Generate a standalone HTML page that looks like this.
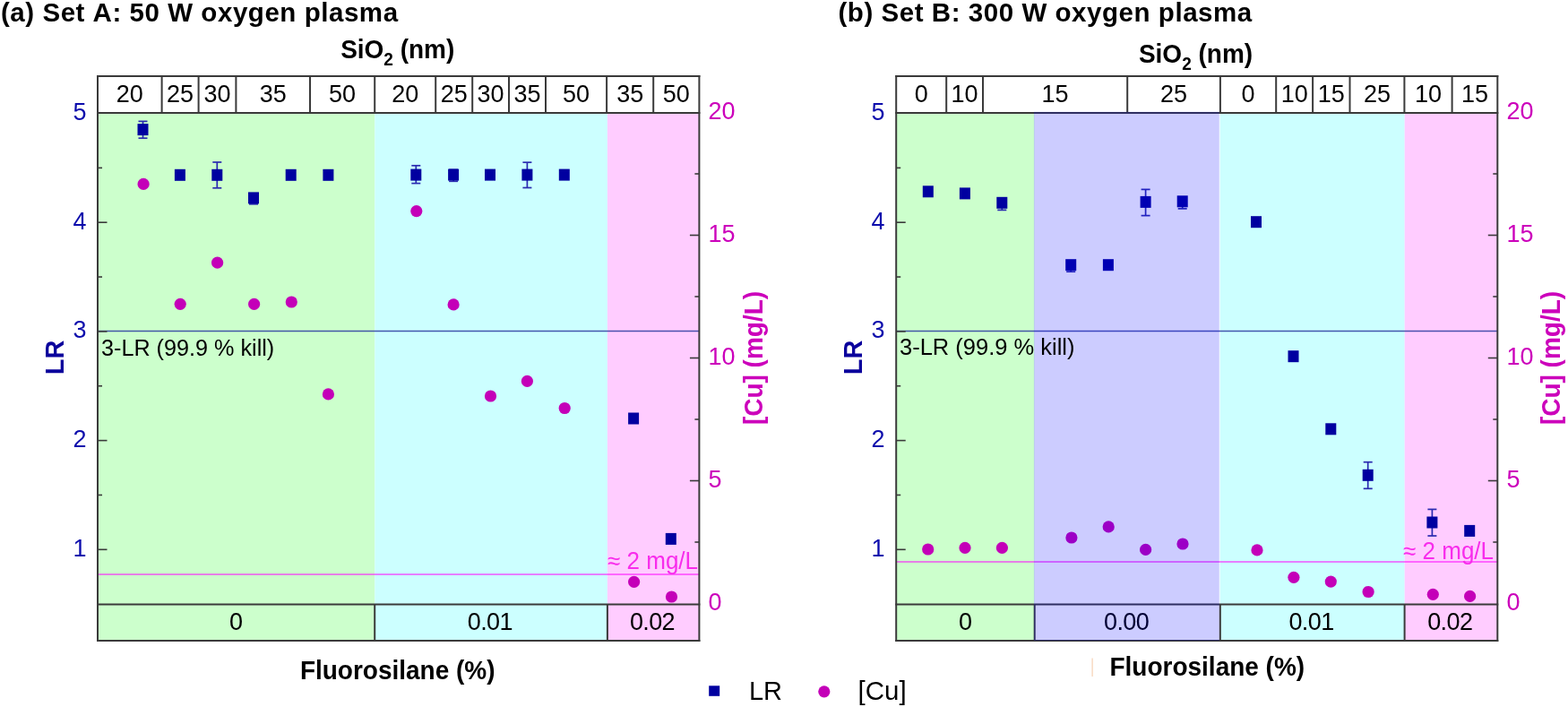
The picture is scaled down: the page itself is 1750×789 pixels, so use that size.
<!DOCTYPE html>
<html><head><meta charset="utf-8"><title>LR and Cu vs SiO2 and fluorosilane</title>
<style>
html,body{margin:0;padding:0;background:#fff;width:1750px;height:789px;overflow:hidden;}
svg{display:block;}
text{font-family:'Liberation Sans', Arial, sans-serif;}
</style></head>
<body>
<svg width="1750" height="789" viewBox="0 0 1750 789">
<rect width="1750" height="789" fill="#fff"/>
<rect x="109" y="126" width="309.3" height="589" fill="#ccffcc"/>
<rect x="418.3" y="126" width="259.59" height="589" fill="#ccffff"/>
<rect x="677.9" y="126" width="102.5" height="589" fill="#ffccff"/>
<line x1="109" x2="780.4" y1="369.5" y2="369.5" stroke="#2a3aa0" stroke-opacity="0.85" stroke-width="1.5"/>
<line x1="109" x2="780.4" y1="641" y2="641" stroke="#ff00ff" stroke-opacity="0.5" stroke-width="2"/>
<line x1="159.5" x2="159.5" y1="135.4" y2="154.2" stroke="#2a2ab0" stroke-width="1.7"/>
<line x1="154.5" x2="164.5" y1="135.4" y2="135.4" stroke="#2a2ab0" stroke-width="1.7"/>
<line x1="154.5" x2="164.5" y1="154.2" y2="154.2" stroke="#2a2ab0" stroke-width="1.7"/>
<rect x="153.5" y="138.1" width="12" height="13" fill="#0000a0"/>
<rect x="194.9" y="188.8" width="12" height="13" fill="#0000a0"/>
<line x1="242.3" x2="242.3" y1="181" y2="209.8" stroke="#2a2ab0" stroke-width="1.7"/>
<line x1="237.3" x2="247.3" y1="181" y2="181" stroke="#2a2ab0" stroke-width="1.7"/>
<line x1="237.3" x2="247.3" y1="209.8" y2="209.8" stroke="#2a2ab0" stroke-width="1.7"/>
<rect x="236.3" y="188.8" width="12" height="13" fill="#0000a0"/>
<line x1="283" x2="283" y1="220.9" y2="227.8" stroke="#2a2ab0" stroke-width="1.7"/>
<line x1="278" x2="288" y1="227.8" y2="227.8" stroke="#2a2ab0" stroke-width="1.7"/>
<rect x="277" y="214.4" width="12" height="13" fill="#0000a0"/>
<rect x="318.7" y="188.8" width="12" height="13" fill="#0000a0"/>
<rect x="360.4" y="188.8" width="12" height="13" fill="#0000a0"/>
<line x1="464.3" x2="464.3" y1="184.8" y2="204.6" stroke="#2a2ab0" stroke-width="1.7"/>
<line x1="459.3" x2="469.3" y1="184.8" y2="184.8" stroke="#2a2ab0" stroke-width="1.7"/>
<line x1="459.3" x2="469.3" y1="204.6" y2="204.6" stroke="#2a2ab0" stroke-width="1.7"/>
<rect x="458.3" y="188.6" width="12" height="13" fill="#0000a0"/>
<line x1="506.1" x2="506.1" y1="189.3" y2="202.3" stroke="#2a2ab0" stroke-width="1.7"/>
<line x1="501.1" x2="511.1" y1="189.3" y2="189.3" stroke="#2a2ab0" stroke-width="1.7"/>
<line x1="501.1" x2="511.1" y1="202.3" y2="202.3" stroke="#2a2ab0" stroke-width="1.7"/>
<rect x="500.1" y="188.6" width="12" height="13" fill="#0000a0"/>
<rect x="541" y="188.6" width="12" height="13" fill="#0000a0"/>
<line x1="588.4" x2="588.4" y1="181.2" y2="209.5" stroke="#2a2ab0" stroke-width="1.7"/>
<line x1="583.4" x2="593.4" y1="181.2" y2="181.2" stroke="#2a2ab0" stroke-width="1.7"/>
<line x1="583.4" x2="593.4" y1="209.5" y2="209.5" stroke="#2a2ab0" stroke-width="1.7"/>
<rect x="582.4" y="188.6" width="12" height="13" fill="#0000a0"/>
<rect x="623.8" y="188.6" width="12" height="13" fill="#0000a0"/>
<rect x="701.1" y="460.5" width="12" height="13" fill="#0000a0"/>
<rect x="742.8" y="594.9" width="12" height="13" fill="#0000a0"/>
<circle cx="160.1" cy="205.4" r="6.6" fill="#c400b8"/>
<circle cx="201.2" cy="339.3" r="6.6" fill="#c400b8"/>
<circle cx="242.6" cy="293.2" r="6.6" fill="#c400b8"/>
<circle cx="283.6" cy="339.3" r="6.6" fill="#c400b8"/>
<circle cx="325.3" cy="337.0" r="6.6" fill="#c400b8"/>
<circle cx="366.4" cy="439.9" r="6.6" fill="#c400b8"/>
<circle cx="464.8" cy="235.6" r="6.6" fill="#c400b8"/>
<circle cx="506.1" cy="339.9" r="6.6" fill="#c400b8"/>
<circle cx="547.5" cy="442" r="6.6" fill="#c400b8"/>
<circle cx="588.4" cy="425.4" r="6.6" fill="#c400b8"/>
<circle cx="630.2" cy="455.5" r="6.6" fill="#c400b8"/>
<circle cx="707.6" cy="649.3" r="6.6" fill="#c400b8"/>
<circle cx="749.5" cy="666" r="6.6" fill="#c400b8"/>
<line x1="109" x2="119.5" y1="613.3" y2="613.3" stroke="#3a3a3a" stroke-width="1.6"/>
<line x1="109" x2="119.5" y1="491.6" y2="491.6" stroke="#3a3a3a" stroke-width="1.6"/>
<line x1="109" x2="119.5" y1="369.9" y2="369.9" stroke="#3a3a3a" stroke-width="1.6"/>
<line x1="109" x2="119.5" y1="248.2" y2="248.2" stroke="#3a3a3a" stroke-width="1.6"/>
<line x1="109" x2="114" y1="552.45" y2="552.45" stroke="#3a3a3a" stroke-width="1.6"/>
<line x1="109" x2="114" y1="430.75" y2="430.75" stroke="#3a3a3a" stroke-width="1.6"/>
<line x1="109" x2="114" y1="309.05" y2="309.05" stroke="#3a3a3a" stroke-width="1.6"/>
<line x1="109" x2="114" y1="187.35" y2="187.35" stroke="#3a3a3a" stroke-width="1.6"/>
<line x1="769.9" x2="780.4" y1="536.5" y2="536.5" stroke="#3a3a3a" stroke-width="1.6"/>
<line x1="769.9" x2="780.4" y1="399.5" y2="399.5" stroke="#3a3a3a" stroke-width="1.6"/>
<line x1="769.9" x2="780.4" y1="262.5" y2="262.5" stroke="#3a3a3a" stroke-width="1.6"/>
<line x1="775.4" x2="780.4" y1="605.0" y2="605.0" stroke="#3a3a3a" stroke-width="1.6"/>
<line x1="775.4" x2="780.4" y1="468.0" y2="468.0" stroke="#3a3a3a" stroke-width="1.6"/>
<line x1="775.4" x2="780.4" y1="331.0" y2="331.0" stroke="#3a3a3a" stroke-width="1.6"/>
<line x1="775.4" x2="780.4" y1="194.0" y2="194.0" stroke="#3a3a3a" stroke-width="1.6"/>
<rect x="109" y="85" width="671.4" height="41" fill="#fff"/>
<text x="0" y="0" transform="translate(144.80,114.20) scale(1,1.03)" font-size="27" font-weight="normal" text-anchor="middle" fill="#000" >20</text>
<text x="0" y="0" transform="translate(201.10,114.20) scale(1,1.03)" font-size="27" font-weight="normal" text-anchor="middle" fill="#000" >25</text>
<text x="0" y="0" transform="translate(242.50,114.20) scale(1,1.03)" font-size="27" font-weight="normal" text-anchor="middle" fill="#000" >30</text>
<text x="0" y="0" transform="translate(304.70,114.20) scale(1,1.03)" font-size="27" font-weight="normal" text-anchor="middle" fill="#000" >35</text>
<text x="0" y="0" transform="translate(382.10,114.20) scale(1,1.03)" font-size="27" font-weight="normal" text-anchor="middle" fill="#000" >50</text>
<text x="0" y="0" transform="translate(452.20,114.20) scale(1,1.03)" font-size="27" font-weight="normal" text-anchor="middle" fill="#000" >20</text>
<text x="0" y="0" transform="translate(506.70,114.20) scale(1,1.03)" font-size="27" font-weight="normal" text-anchor="middle" fill="#000" >25</text>
<text x="0" y="0" transform="translate(547.60,114.20) scale(1,1.03)" font-size="27" font-weight="normal" text-anchor="middle" fill="#000" >30</text>
<text x="0" y="0" transform="translate(588.50,114.20) scale(1,1.03)" font-size="27" font-weight="normal" text-anchor="middle" fill="#000" >35</text>
<text x="0" y="0" transform="translate(643.05,114.20) scale(1,1.03)" font-size="27" font-weight="normal" text-anchor="middle" fill="#000" >50</text>
<text x="0" y="0" transform="translate(703.15,114.20) scale(1,1.03)" font-size="27" font-weight="normal" text-anchor="middle" fill="#000" >35</text>
<text x="0" y="0" transform="translate(754.80,114.20) scale(1,1.03)" font-size="27" font-weight="normal" text-anchor="middle" fill="#000" >50</text>
<text x="0" y="0" transform="translate(263.60,703.00) scale(1,1.03)" font-size="27" font-weight="normal" text-anchor="middle" fill="#000" >0</text>
<text x="0" y="0" transform="translate(546.85,703.00) scale(1,1.03)" font-size="27" font-weight="normal" text-anchor="middle" fill="#000" letter-spacing="-0.6">0.01</text>
<text x="0" y="0" transform="translate(727.95,703.00) scale(1,1.03)" font-size="27" font-weight="normal" text-anchor="middle" fill="#000" letter-spacing="-0.6">0.02</text>
<line x1="108" x2="781.4" y1="85" y2="85" stroke="#3a3a3a" stroke-width="2"/>
<line x1="108" x2="781.4" y1="126" y2="126" stroke="#3a3a3a" stroke-width="2"/>
<line x1="108" x2="781.4" y1="674.5" y2="674.5" stroke="#3a3a3a" stroke-width="2"/>
<line x1="108" x2="781.4" y1="715" y2="715" stroke="#3a3a3a" stroke-width="2"/>
<line x1="109" x2="109" y1="84" y2="716" stroke="#3a3a3a" stroke-width="2"/>
<line x1="780.4" x2="780.4" y1="84" y2="716" stroke="#3a3a3a" stroke-width="2"/>
<line x1="180.6" x2="180.6" y1="85" y2="126" stroke="#3a3a3a" stroke-width="2"/>
<line x1="221.6" x2="221.6" y1="85" y2="126" stroke="#3a3a3a" stroke-width="2"/>
<line x1="263.4" x2="263.4" y1="85" y2="126" stroke="#3a3a3a" stroke-width="2"/>
<line x1="346" x2="346" y1="85" y2="126" stroke="#3a3a3a" stroke-width="2"/>
<line x1="418.2" x2="418.2" y1="85" y2="126" stroke="#3a3a3a" stroke-width="2"/>
<line x1="486.2" x2="486.2" y1="85" y2="126" stroke="#3a3a3a" stroke-width="2"/>
<line x1="527.2" x2="527.2" y1="85" y2="126" stroke="#3a3a3a" stroke-width="2"/>
<line x1="568" x2="568" y1="85" y2="126" stroke="#3a3a3a" stroke-width="2"/>
<line x1="609" x2="609" y1="85" y2="126" stroke="#3a3a3a" stroke-width="2"/>
<line x1="677.1" x2="677.1" y1="85" y2="126" stroke="#3a3a3a" stroke-width="2"/>
<line x1="729.2" x2="729.2" y1="85" y2="126" stroke="#3a3a3a" stroke-width="2"/>
<line x1="418.2" x2="418.2" y1="674.5" y2="715" stroke="#3a3a3a" stroke-width="2"/>
<line x1="677.9" x2="677.9" y1="674.5" y2="715" stroke="#3a3a3a" stroke-width="2"/>
<text x="0" y="0" transform="translate(113.00,397.00) scale(1,1.03)" font-size="25.2" font-weight="normal" text-anchor="start" fill="#000" >3-LR (99.9 % kill)</text>
<text x="0" y="0" transform="translate(779.00,635.00) scale(1,1.03)" font-size="26" font-weight="normal" text-anchor="end" fill="#f82cec" >&#8776; 2 mg/L</text>
<text x="0" y="0" transform="translate(96.50,620.80) scale(1,1.03)" font-size="27" font-weight="normal" text-anchor="end" fill="#0c0cac" >1</text>
<text x="0" y="0" transform="translate(96.50,499.10) scale(1,1.03)" font-size="27" font-weight="normal" text-anchor="end" fill="#0c0cac" >2</text>
<text x="0" y="0" transform="translate(96.50,377.40) scale(1,1.03)" font-size="27" font-weight="normal" text-anchor="end" fill="#0c0cac" >3</text>
<text x="0" y="0" transform="translate(96.50,255.70) scale(1,1.03)" font-size="27" font-weight="normal" text-anchor="end" fill="#0c0cac" >4</text>
<text x="0" y="0" transform="translate(96.50,134.00) scale(1,1.03)" font-size="27" font-weight="normal" text-anchor="end" fill="#0c0cac" >5</text>
<text x="0" y="0" transform="translate(790.50,681.00) scale(1,1.03)" font-size="27" font-weight="normal" text-anchor="start" fill="#cc00bb" >0</text>
<text x="0" y="0" transform="translate(790.50,544.00) scale(1,1.03)" font-size="27" font-weight="normal" text-anchor="start" fill="#cc00bb" >5</text>
<text x="0" y="0" transform="translate(790.50,407.00) scale(1,1.03)" font-size="27" font-weight="normal" text-anchor="start" fill="#cc00bb" >10</text>
<text x="0" y="0" transform="translate(790.50,270.00) scale(1,1.03)" font-size="27" font-weight="normal" text-anchor="start" fill="#cc00bb" >15</text>
<text x="0" y="0" transform="translate(790.50,133.00) scale(1,1.03)" font-size="27" font-weight="normal" text-anchor="start" fill="#cc00bb" >20</text>
<text x="0" y="0" transform="translate(70.5,399) rotate(-90) scale(1,1.03)" font-size="29" font-weight="bold" text-anchor="middle" fill="#0a009c">LR</text>
<text x="0" y="0" transform="translate(850.5,399.5) rotate(-90) scale(1,1.03)" font-size="28" font-weight="bold" text-anchor="middle" fill="#cc00bb">[Cu] (mg/L)</text>
<text x="0" y="0" transform="translate(443.7,65) scale(1,1.03)" font-size="28" font-weight="bold" text-anchor="middle">SiO<tspan font-size="19" dy="7.5">2</tspan><tspan dy="-7.5"> (nm)</tspan></text>
<text x="0" y="0" transform="translate(443.70,757.90) scale(1,1.03)" font-size="28" font-weight="bold" text-anchor="middle" fill="#000" >Fluorosilane (%)</text>
<text x="0" y="0" transform="translate(1.00,24.00) scale(1,1.03)" font-size="29.5" font-weight="bold" text-anchor="start" fill="#000" letter-spacing="0.55">(a) Set<tspan dx="1"> A: 50 W oxygen plasma</tspan></text>
<rect x="1000.2" y="126" width="154.20" height="589" fill="#ccffcc"/>
<rect x="1361.6" y="126" width="206.10" height="589" fill="#ccffff"/>
<rect x="1567.7" y="126" width="103.59" height="589" fill="#ffccff"/>
<line x1="1000.2" x2="1671.3" y1="369.5" y2="369.5" stroke="#2a3aa0" stroke-opacity="0.85" stroke-width="1.5"/>
<line x1="1000.2" x2="1671.3" y1="627" y2="627" stroke="#ff00ff" stroke-opacity="0.5" stroke-width="2"/>
<rect x="1029.8" y="207.3" width="12" height="13" fill="#0000a0"/>
<rect x="1070.9" y="209.4" width="12" height="13" fill="#0000a0"/>
<line x1="1118.3" x2="1118.3" y1="226.3" y2="234.4" stroke="#2a2ab0" stroke-width="1.7"/>
<line x1="1113.3" x2="1123.3" y1="234.4" y2="234.4" stroke="#2a2ab0" stroke-width="1.7"/>
<rect x="1112.3" y="219.8" width="12" height="13" fill="#0000a0"/>
<line x1="1195.2" x2="1195.2" y1="295.7" y2="303.2" stroke="#2a2ab0" stroke-width="1.7"/>
<line x1="1190.2" x2="1200.2" y1="303.2" y2="303.2" stroke="#2a2ab0" stroke-width="1.7"/>
<rect x="1189.2" y="289.2" width="12" height="13" fill="#0000a0"/>
<rect x="1230.9" y="289.2" width="12" height="13" fill="#0000a0"/>
<line x1="1278.6" x2="1278.6" y1="211.4" y2="240.6" stroke="#2a2ab0" stroke-width="1.7"/>
<line x1="1273.6" x2="1283.6" y1="211.4" y2="211.4" stroke="#2a2ab0" stroke-width="1.7"/>
<line x1="1273.6" x2="1283.6" y1="240.6" y2="240.6" stroke="#2a2ab0" stroke-width="1.7"/>
<rect x="1272.6" y="218.9" width="12" height="13" fill="#0000a0"/>
<line x1="1319.7" x2="1319.7" y1="224.8" y2="232.9" stroke="#2a2ab0" stroke-width="1.7"/>
<line x1="1314.7" x2="1324.7" y1="232.9" y2="232.9" stroke="#2a2ab0" stroke-width="1.7"/>
<rect x="1313.7" y="218.3" width="12" height="13" fill="#0000a0"/>
<rect x="1396" y="241.2" width="12" height="13" fill="#0000a0"/>
<rect x="1437.5" y="391.2" width="12" height="13" fill="#0000a0"/>
<rect x="1479.3" y="472.3" width="12" height="13" fill="#0000a0"/>
<line x1="1526.7" x2="1526.7" y1="515.7" y2="545.3" stroke="#2a2ab0" stroke-width="1.7"/>
<line x1="1521.7" x2="1531.7" y1="515.7" y2="515.7" stroke="#2a2ab0" stroke-width="1.7"/>
<line x1="1521.7" x2="1531.7" y1="545.3" y2="545.3" stroke="#2a2ab0" stroke-width="1.7"/>
<rect x="1520.7" y="523.8" width="12" height="13" fill="#0000a0"/>
<line x1="1598.4" x2="1598.4" y1="568.4" y2="598" stroke="#2a2ab0" stroke-width="1.7"/>
<line x1="1593.4" x2="1603.4" y1="568.4" y2="568.4" stroke="#2a2ab0" stroke-width="1.7"/>
<line x1="1593.4" x2="1603.4" y1="598" y2="598" stroke="#2a2ab0" stroke-width="1.7"/>
<rect x="1592.4" y="576.5" width="12" height="13" fill="#0000a0"/>
<rect x="1634.2" y="585.9" width="12" height="13" fill="#0000a0"/>
<circle cx="1035.7" cy="613" r="6.6" fill="#c400b8"/>
<circle cx="1077" cy="611.4" r="6.6" fill="#c400b8"/>
<circle cx="1118.4" cy="611.4" r="6.6" fill="#c400b8"/>
<circle cx="1195.9" cy="600" r="6.6" fill="#c400b8"/>
<circle cx="1237.2" cy="587.9" r="6.6" fill="#c400b8"/>
<circle cx="1278.6" cy="613.4" r="6.6" fill="#c400b8"/>
<circle cx="1320" cy="607" r="6.6" fill="#c400b8"/>
<circle cx="1403" cy="613.9" r="6.6" fill="#c400b8"/>
<circle cx="1443.9" cy="644.3" r="6.6" fill="#c400b8"/>
<circle cx="1485.3" cy="649.1" r="6.6" fill="#c400b8"/>
<circle cx="1527.1" cy="660.5" r="6.6" fill="#c400b8"/>
<circle cx="1599.3" cy="663.3" r="6.6" fill="#c400b8"/>
<circle cx="1640.6" cy="665.4" r="6.6" fill="#c400b8"/>
<line x1="1000.2" x2="1010.7" y1="613.3" y2="613.3" stroke="#3a3a3a" stroke-width="1.6"/>
<line x1="1000.2" x2="1010.7" y1="491.6" y2="491.6" stroke="#3a3a3a" stroke-width="1.6"/>
<line x1="1000.2" x2="1010.7" y1="369.9" y2="369.9" stroke="#3a3a3a" stroke-width="1.6"/>
<line x1="1000.2" x2="1010.7" y1="248.2" y2="248.2" stroke="#3a3a3a" stroke-width="1.6"/>
<line x1="1000.2" x2="1005.2" y1="552.45" y2="552.45" stroke="#3a3a3a" stroke-width="1.6"/>
<line x1="1000.2" x2="1005.2" y1="430.75" y2="430.75" stroke="#3a3a3a" stroke-width="1.6"/>
<line x1="1000.2" x2="1005.2" y1="309.05" y2="309.05" stroke="#3a3a3a" stroke-width="1.6"/>
<line x1="1000.2" x2="1005.2" y1="187.35" y2="187.35" stroke="#3a3a3a" stroke-width="1.6"/>
<line x1="1660.8" x2="1671.3" y1="536.5" y2="536.5" stroke="#3a3a3a" stroke-width="1.6"/>
<line x1="1660.8" x2="1671.3" y1="399.5" y2="399.5" stroke="#3a3a3a" stroke-width="1.6"/>
<line x1="1660.8" x2="1671.3" y1="262.5" y2="262.5" stroke="#3a3a3a" stroke-width="1.6"/>
<line x1="1666.3" x2="1671.3" y1="605.0" y2="605.0" stroke="#3a3a3a" stroke-width="1.6"/>
<line x1="1666.3" x2="1671.3" y1="468.0" y2="468.0" stroke="#3a3a3a" stroke-width="1.6"/>
<line x1="1666.3" x2="1671.3" y1="331.0" y2="331.0" stroke="#3a3a3a" stroke-width="1.6"/>
<line x1="1666.3" x2="1671.3" y1="194.0" y2="194.0" stroke="#3a3a3a" stroke-width="1.6"/>
<rect x="1000.2" y="85" width="671.09" height="41" fill="#fff"/>
<text x="0" y="0" transform="translate(1028.20,114.20) scale(1,1.03)" font-size="27" font-weight="normal" text-anchor="middle" fill="#000" >0</text>
<text x="0" y="0" transform="translate(1076.60,114.20) scale(1,1.03)" font-size="27" font-weight="normal" text-anchor="middle" fill="#000" >10</text>
<text x="0" y="0" transform="translate(1177.60,114.20) scale(1,1.03)" font-size="27" font-weight="normal" text-anchor="middle" fill="#000" >15</text>
<text x="0" y="0" transform="translate(1310.05,114.20) scale(1,1.03)" font-size="27" font-weight="normal" text-anchor="middle" fill="#000" >25</text>
<text x="0" y="0" transform="translate(1393.05,114.20) scale(1,1.03)" font-size="27" font-weight="normal" text-anchor="middle" fill="#000" >0</text>
<text x="0" y="0" transform="translate(1444.65,114.20) scale(1,1.03)" font-size="27" font-weight="normal" text-anchor="middle" fill="#000" >10</text>
<text x="0" y="0" transform="translate(1485.80,114.20) scale(1,1.03)" font-size="27" font-weight="normal" text-anchor="middle" fill="#000" >15</text>
<text x="0" y="0" transform="translate(1536.95,114.20) scale(1,1.03)" font-size="27" font-weight="normal" text-anchor="middle" fill="#000" >25</text>
<text x="0" y="0" transform="translate(1594.00,114.20) scale(1,1.03)" font-size="27" font-weight="normal" text-anchor="middle" fill="#000" >10</text>
<text x="0" y="0" transform="translate(1645.95,114.20) scale(1,1.03)" font-size="27" font-weight="normal" text-anchor="middle" fill="#000" >15</text>
<text x="0" y="0" transform="translate(1077.45,703.00) scale(1,1.03)" font-size="27" font-weight="normal" text-anchor="middle" fill="#000" >0</text>
<text x="0" y="0" transform="translate(1257.05,703.00) scale(1,1.03)" font-size="27" font-weight="normal" text-anchor="middle" fill="#000" letter-spacing="-0.6">0.00</text>
<text x="0" y="0" transform="translate(1463.50,703.00) scale(1,1.03)" font-size="27" font-weight="normal" text-anchor="middle" fill="#000" letter-spacing="-0.6">0.01</text>
<text x="0" y="0" transform="translate(1618.25,703.00) scale(1,1.03)" font-size="27" font-weight="normal" text-anchor="middle" fill="#000" letter-spacing="-0.6">0.02</text>
<line x1="999.2" x2="1672.3" y1="85" y2="85" stroke="#3a3a3a" stroke-width="2"/>
<line x1="999.2" x2="1672.3" y1="126" y2="126" stroke="#3a3a3a" stroke-width="2"/>
<line x1="999.2" x2="1672.3" y1="674.5" y2="674.5" stroke="#3a3a3a" stroke-width="2"/>
<line x1="999.2" x2="1672.3" y1="715" y2="715" stroke="#3a3a3a" stroke-width="2"/>
<line x1="1000.2" x2="1000.2" y1="84" y2="716" stroke="#3a3a3a" stroke-width="2"/>
<line x1="1671.3" x2="1671.3" y1="84" y2="716" stroke="#3a3a3a" stroke-width="2"/>
<line x1="1056.2" x2="1056.2" y1="85" y2="126" stroke="#3a3a3a" stroke-width="2"/>
<line x1="1097" x2="1097" y1="85" y2="126" stroke="#3a3a3a" stroke-width="2"/>
<line x1="1258.2" x2="1258.2" y1="85" y2="126" stroke="#3a3a3a" stroke-width="2"/>
<line x1="1361.9" x2="1361.9" y1="85" y2="126" stroke="#3a3a3a" stroke-width="2"/>
<line x1="1424.2" x2="1424.2" y1="85" y2="126" stroke="#3a3a3a" stroke-width="2"/>
<line x1="1465.1" x2="1465.1" y1="85" y2="126" stroke="#3a3a3a" stroke-width="2"/>
<line x1="1506.5" x2="1506.5" y1="85" y2="126" stroke="#3a3a3a" stroke-width="2"/>
<line x1="1567.4" x2="1567.4" y1="85" y2="126" stroke="#3a3a3a" stroke-width="2"/>
<line x1="1620.6" x2="1620.6" y1="85" y2="126" stroke="#3a3a3a" stroke-width="2"/>
<line x1="1154.7" x2="1154.7" y1="674.5" y2="715" stroke="#3a3a3a" stroke-width="2"/>
<line x1="1361.8" x2="1361.8" y1="674.5" y2="715" stroke="#3a3a3a" stroke-width="2"/>
<line x1="1567.6" x2="1567.6" y1="674.5" y2="715" stroke="#3a3a3a" stroke-width="2"/>
<rect x="1153.9" y="124.8" width="206.89" height="590.2" fill="#0000ff" fill-opacity="0.2"/>
<text x="0" y="0" transform="translate(1004.00,396.00) scale(1,1.03)" font-size="25.5" font-weight="normal" text-anchor="start" fill="#000" >3-LR (99.9 % kill)</text>
<text x="0" y="0" transform="translate(1667.00,623.50) scale(1,1.03)" font-size="26" font-weight="normal" text-anchor="end" fill="#f82cec" >&#8776; 2 mg/L</text>
<text x="0" y="0" transform="translate(987.50,620.80) scale(1,1.03)" font-size="27" font-weight="normal" text-anchor="end" fill="#0c0cac" >1</text>
<text x="0" y="0" transform="translate(987.50,499.10) scale(1,1.03)" font-size="27" font-weight="normal" text-anchor="end" fill="#0c0cac" >2</text>
<text x="0" y="0" transform="translate(987.50,377.40) scale(1,1.03)" font-size="27" font-weight="normal" text-anchor="end" fill="#0c0cac" >3</text>
<text x="0" y="0" transform="translate(987.50,255.70) scale(1,1.03)" font-size="27" font-weight="normal" text-anchor="end" fill="#0c0cac" >4</text>
<text x="0" y="0" transform="translate(987.50,134.00) scale(1,1.03)" font-size="27" font-weight="normal" text-anchor="end" fill="#0c0cac" >5</text>
<text x="0" y="0" transform="translate(1681.50,681.00) scale(1,1.03)" font-size="27" font-weight="normal" text-anchor="start" fill="#cc00bb" >0</text>
<text x="0" y="0" transform="translate(1681.50,544.00) scale(1,1.03)" font-size="27" font-weight="normal" text-anchor="start" fill="#cc00bb" >5</text>
<text x="0" y="0" transform="translate(1681.50,407.00) scale(1,1.03)" font-size="27" font-weight="normal" text-anchor="start" fill="#cc00bb" >10</text>
<text x="0" y="0" transform="translate(1681.50,270.00) scale(1,1.03)" font-size="27" font-weight="normal" text-anchor="start" fill="#cc00bb" >15</text>
<text x="0" y="0" transform="translate(1681.50,133.00) scale(1,1.03)" font-size="27" font-weight="normal" text-anchor="start" fill="#cc00bb" >20</text>
<text x="0" y="0" transform="translate(961.5,399) rotate(-90) scale(1,1.03)" font-size="29" font-weight="bold" text-anchor="middle" fill="#0a009c">LR</text>
<text x="0" y="0" transform="translate(1741,399.5) rotate(-90) scale(1,1.03)" font-size="28" font-weight="bold" text-anchor="middle" fill="#cc00bb">[Cu] (mg/L)</text>
<text x="0" y="0" transform="translate(1334.5,70) scale(1,1.03)" font-size="28" font-weight="bold" text-anchor="middle">SiO<tspan font-size="19" dy="7.5">2</tspan><tspan dy="-7.5"> (nm)</tspan></text>
<text x="0" y="0" transform="translate(1347.30,754.00) scale(1,1.03)" font-size="28" font-weight="bold" text-anchor="middle" fill="#000" >Fluorosilane (%)</text>
<text x="0" y="0" transform="translate(935.50,24.00) scale(1,1.03)" font-size="29.5" font-weight="bold" text-anchor="start" fill="#000" letter-spacing="0.55">(b) Set B: 300 W oxygen plasma</text>
<rect x="791.2" y="765.3" width="12" height="11.5" fill="#0000a0"/>
<text x="0" y="0" transform="translate(836,780.5) scale(1,1.03)" font-size="29">LR</text>
<circle cx="919.8" cy="771.8" r="6.6" fill="#c400b8"/>
<text x="0" y="0" transform="translate(957.5,780.5) scale(1,1.03)" font-size="29.5">[Cu]</text>
<line x1="1219.1" x2="1219.1" y1="734.5" y2="755" stroke="#f6d2b4" stroke-width="1.2"/>
</svg>
</body></html>
